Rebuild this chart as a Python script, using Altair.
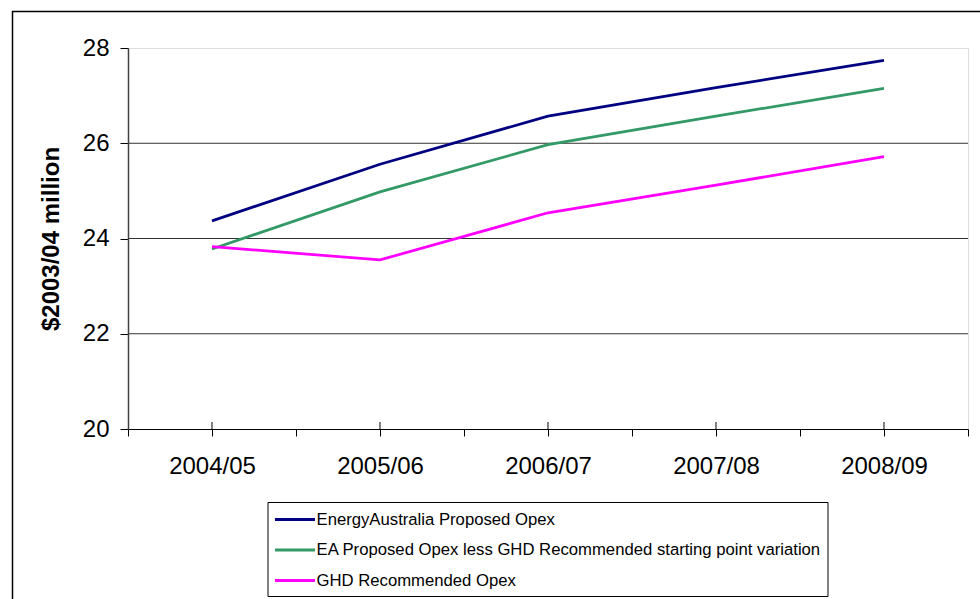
import altair as alt
import pandas as pd

# Financial years on the category axis
years = ["2004/05", "2005/06", "2006/07", "2007/08", "2008/09"]

# Series names (legend order) and their colours
series = [
    "EnergyAustralia Proposed Opex",
    "EA Proposed Opex less GHD Recommended starting point variation",
    "GHD Recommended Opex",
]
colors = ["#000080", "#339966", "#FF00FF"]

# Operating expenditure, $2003/04 million
ea_proposed = [24.37, 25.56, 26.57, 27.17, 27.74]
ea_less_ghd = [23.78, 24.98, 25.97, 26.57, 27.15]
ghd_recommended = [23.83, 23.55, 24.54, 25.12, 25.72]

y_ticks = [20, 22, 24, 26, 28]
gridlines = [22, 24, 26]

rows = []
for name, vals in zip(series, [ea_proposed, ea_less_ghd, ghd_recommended]):
    for i, (yr, v) in enumerate(zip(years, vals)):
        rows.append({"idx": i, "year": yr, "series": name, "value": v})
df = pd.DataFrame(rows)

W, H = 840, 381

x_ticks = [i / 2 for i in range(-1, 2 * len(years))]
label_list = "[" + ",".join("'" + y + "'" for y in years) + "]"
x_label_expr = f"datum.value % 1 === 0 ? {label_list}[datum.value] : ''"

x_scale = alt.Scale(domain=[-0.5, len(years) - 0.5], nice=False, zero=False)
y_scale = alt.Scale(domain=[20, 28], nice=False, zero=False)

x_axis = alt.Axis(
    values=x_ticks,
    labelExpr=x_label_expr,
    labelOverlap=False,
    labelFlush=False,
    labelFontSize=24,
    labelPadding=18,
    tickSize=7,
    tickColor="#000000",
    domainColor="#000000",
    grid=False,
    title=None,
)
y_axis = alt.Axis(
    values=y_ticks,
    labelFontSize=24,
    labelPadding=11,
    tickSize=8,
    tickColor="#000000",
    domainColor="#404040",
    domainWidth=1.5,
    grid=False,
    title="$2003/04 million",
    titleFontSize=24,
    titleFontWeight="bold",
    titlePadding=19,
)

# Horizontal gridlines inside the plot
grid = (
    alt.Chart(pd.DataFrame({"g": gridlines}))
    .mark_rule(color="#333333", strokeWidth=1)
    .encode(y=alt.Y("g:Q", scale=y_scale, axis=y_axis))
)

# Short tick marks that cross the x axis at each category
center_ticks = (
    alt.Chart(pd.DataFrame({"idx": list(range(len(years)))}))
    .mark_rule(color="#000000", strokeWidth=1)
    .encode(
        x=alt.X("idx:Q", scale=x_scale, axis=x_axis),
        y=alt.value(H - 7),
        y2=alt.value(H),
    )
)

lines = (
    alt.Chart(df)
    .mark_line(strokeWidth=2.75)
    .encode(
        x=alt.X("idx:Q", scale=x_scale, axis=x_axis),
        y=alt.Y("value:Q", scale=y_scale, axis=y_axis),
        color=alt.Color(
            "series:N",
            scale=alt.Scale(domain=series, range=colors),
            legend=alt.Legend(
                title=None,
                orient="none",
                legendX=139.5,
                legendY=454,
                direction="vertical",
                columns=1,
                symbolType="M-1,0H3",
                symbolSize=400,
                symbolStrokeWidth=3,
                labelFontSize=16.7,
                labelOffset=20,
                labelLimit=700,
                rowPadding=9.5,
                padding=6,
                strokeColor="#000000",
                fillColor="#ffffff",
            ),
        ),
        detail="series:N",
    )
)

one = pd.DataFrame({"k": [0]})
frame_top = alt.Chart(one).mark_rule(color="#000000", strokeWidth=1.5).encode(
    x=alt.value(-116), x2=alt.value(980 - 128), y=alt.value(-36.5)
)
frame_left = alt.Chart(one).mark_rule(color="#000000", strokeWidth=1.5).encode(
    x=alt.value(-115.5), y=alt.value(-37), y2=alt.value(599 - 48)
)

chart = (
    alt.layer(grid, center_ticks, lines, frame_top, frame_left)
    .properties(
        width=W,
        height=H,
        autosize=alt.AutoSizeParams(type="none"),
        padding={"left": 128, "top": 48, "right": 12, "bottom": 170},
        background="#ffffff",
    )
    .configure_view(stroke="#909090", strokeWidth=1.5)
    .configure_axis(labelColor="#000000", titleColor="#000000")
    .configure(font="Liberation Sans")
)

chart.save("out.html", embed_options={"renderer": "svg", "actions": False})
